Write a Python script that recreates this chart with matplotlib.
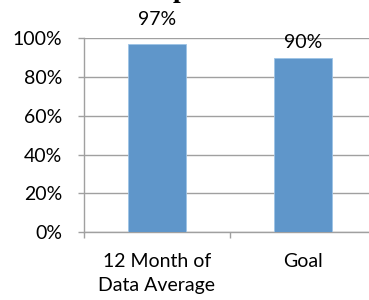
import matplotlib
matplotlib.use('Agg')
import matplotlib.pyplot as plt

categories = ['12 Month of\nData Average', 'Goal']
values = [0.97, 0.90]
labels = ['97%', '90%']
label_offsets = [13.5, 7]   # points above bar top, as in the reference
yticks = [0, 0.2, 0.4, 0.6, 0.8, 1.0]
ytick_labels = ['0%', '20%', '40%', '60%', '80%', '100%']

plt.rcParams['font.family'] = ['Lato', 'DejaVu Sans']
grey = '#a0a0a0'
fs = 14

fig = plt.figure(figsize=(3.69, 3.0), dpi=100)
ax = fig.add_axes([84/369, 1-232/300, 292/369, (232-38.25)/300])

x = range(len(values))
bars = ax.bar(x, values, width=0.4, color='#5f96ca', edgecolor='#9dc3e6', linewidth=0.6, zorder=3)

for xi, v, lab, off in zip(x, values, labels, label_offsets):
    ax.annotate(lab, (xi, v), xytext=(0, off), textcoords='offset points',
                ha='center', va='baseline', fontsize=fs, color='black')

ax.set_xlim(-0.5, 1.5)
ax.set_ylim(0, 1.0)
ax.set_yticks(yticks)
ax.set_yticklabels(ytick_labels, fontsize=fs, color='black')
ax.set_xticks([-0.5, 0.5, 1.5])
ax.set_xticklabels([])
ax.set_xticks(list(x), minor=True)
ax.set_xticklabels(categories, minor=True, fontsize=fs, linespacing=1.5, color='black')
ax.tick_params(axis='x', which='minor', length=0, pad=15)
ax.tick_params(axis='x', which='major', length=4.5, color=grey, width=1)
ax.tick_params(axis='y', length=4.5, color=grey, width=1, pad=11)

ax.grid(axis='y', color=grey, linewidth=1, zorder=0)
for s in ['top', 'right']:
    ax.spines[s].set_visible(False)
for s in ['left', 'bottom']:
    ax.spines[s].set_color(grey)
    ax.spines[s].set_linewidth(1)

# title is mostly cut off in the reference; only a descender shows
fig.text(180/369, 1 + 3/300, 'p', fontsize=20, fontweight='bold', family='Liberation Serif',
         ha='center', va='baseline')

fig.savefig('out.png', dpi=100)
